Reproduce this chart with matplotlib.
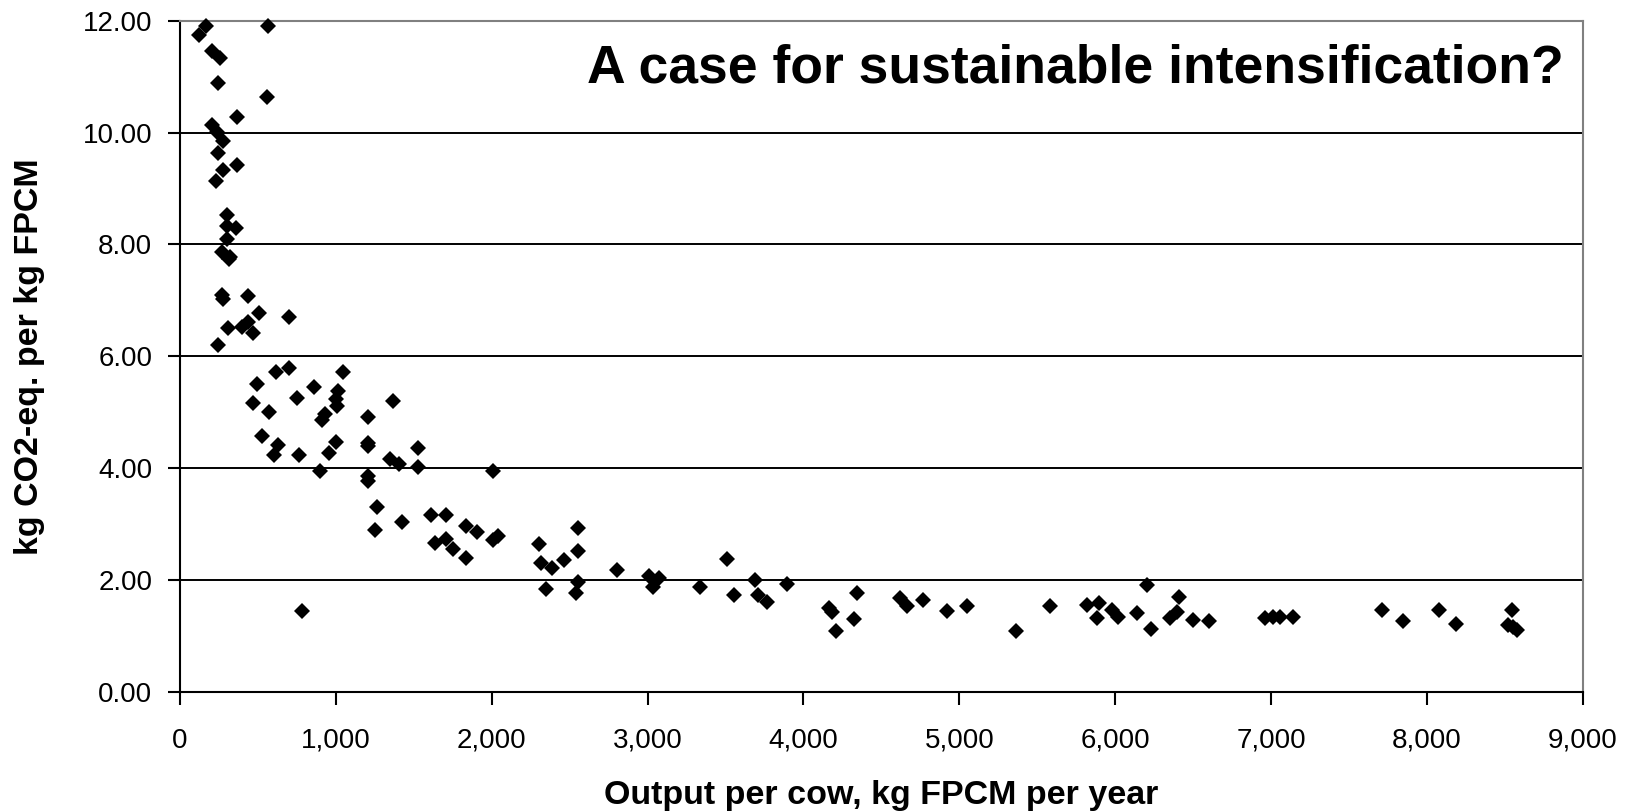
import matplotlib
matplotlib.use("Agg")
import matplotlib.pyplot as plt
from matplotlib.ticker import FuncFormatter

plt.rcParams['font.family'] = ['Liberation Sans', 'DejaVu Sans']

# Output per cow (kg FPCM / year)
output_per_cow = [
    167, 124, 567, 203, 257, 246, 556, 364, 203, 235, 278, 246, 364, 278, 229,
    304, 304, 357, 304, 267, 321, 316, 267, 438, 278, 509, 701, 310, 396, 438,
    466, 246,
    616, 701, 1044, 496, 860, 1016, 749, 999, 1005, 1369, 466, 930, 909, 571,
    1208, 528, 631, 603, 764, 1001, 956, 1208, 1208, 898, 1347, 1407, 1529,
    1529, 1208, 1208, 1266, 1427, 1251, 1609, 1707, 1835, 1636, 1707, 1750,
    1835, 781,
    2006, 1904, 2010, 2042, 2304, 2552, 2552, 2314, 2389, 2464, 2346, 2552,
    2539, 2802, 3011, 3074, 3037, 3337, 3512, 3557, 3689, 3711, 3764, 3893,
    4167, 4181, 4342, 4327, 4209, 4620, 4667, 4770, 4919, 5052, 5364, 5582,
    5818, 5899, 5882, 5978, 6021, 6139, 6207, 6228, 6352, 6395, 6412, 6498,
    6605, 6965, 7010, 7060, 7144,
    7715, 7845, 8080, 8188, 8545, 8523, 8577, 8550,
]

# Emission intensity (kg CO2-eq. per kg FPCM)
emission_intensity = [
    11.90, 11.74, 11.90, 11.45, 11.33, 10.88, 10.64, 10.28, 10.13, 10.01, 9.84,
    9.63, 9.42, 9.33, 9.14, 8.52, 8.32, 8.29, 8.09, 7.87, 7.78, 7.73, 7.09,
    7.08, 7.03, 6.77, 6.70, 6.50, 6.53, 6.62, 6.41, 6.20,
    5.71, 5.78, 5.71, 5.50, 5.45, 5.38, 5.26, 5.23, 5.11, 5.19, 5.16, 4.97,
    4.85, 5.00, 4.92, 4.58, 4.41, 4.23, 4.24, 4.47, 4.27, 4.44, 4.39, 3.95,
    4.16, 4.08, 4.36, 4.02, 3.86, 3.77, 3.31, 3.04, 2.89, 3.16, 3.16, 2.96,
    2.66, 2.73, 2.55, 2.39, 1.45,
    3.95, 2.85, 2.71, 2.78, 2.64, 2.93, 2.52, 2.30, 2.21, 2.36, 1.84, 1.97,
    1.76, 2.18, 2.07, 2.03, 1.87, 1.87, 2.37, 1.73, 1.99, 1.73, 1.61, 1.93,
    1.49, 1.43, 1.76, 1.30, 1.09, 1.67, 1.54, 1.64, 1.45, 1.54, 1.09, 1.54,
    1.55, 1.58, 1.31, 1.46, 1.34, 1.40, 1.91, 1.13, 1.31, 1.43, 1.70, 1.29,
    1.27, 1.31, 1.33, 1.33, 1.34,
    1.46, 1.27, 1.46, 1.21, 1.46, 1.19, 1.10, 1.15,
]

x_ticks = [0, 1000, 2000, 3000, 4000, 5000, 6000, 7000, 8000, 9000]
y_ticks = [0, 2, 4, 6, 8, 10, 12]

title_text = "A case for sustainable intensification?"
x_label = "Output per cow, kg FPCM per year"
y_label = "kg CO2-eq. per kg FPCM"

fig = plt.figure(figsize=(16.36, 8.11), dpi=100)
ax = fig.add_axes([0.110, 0.1471, 0.8574, 0.8274])

for yv in y_ticks[1:-1]:
    ax.axhline(yv, color='black', linewidth=1.4, zorder=1)

ax.plot(output_per_cow, emission_intensity, linestyle='none', marker='D',
        markersize=8.2, color='black', markeredgewidth=0, zorder=3,
        clip_on=False)

ax.set_xlim(0, 9000)
ax.set_ylim(0, 12)
ax.set_xticks(x_ticks)
ax.set_yticks(y_ticks)
ax.xaxis.set_major_formatter(FuncFormatter(lambda v, p: f"{int(v):,}"))
ax.yaxis.set_major_formatter(FuncFormatter(lambda v, p: f"{v:.2f}"))

ax.spines['left'].set_color('black')
ax.spines['bottom'].set_color('black')
ax.spines['left'].set_linewidth(1.5)
ax.spines['bottom'].set_linewidth(1.5)
ax.spines['top'].set_color('#808080')
ax.spines['right'].set_color('#808080')
ax.spines['top'].set_linewidth(1.5)
ax.spines['right'].set_linewidth(1.5)

ax.tick_params(axis='x', direction='out', length=9, width=1.5, pad=17,
               labelsize=20, colors='black')
ax.tick_params(axis='y', direction='out', length=9, width=1.5, pad=11,
               labelsize=20, colors='black')

ax.set_xlabel(x_label, fontsize=24.5, fontweight='bold', labelpad=19)
ax.set_ylabel(y_label, fontsize=24.5, fontweight='bold', labelpad=27)

ax.text(0.9865, 0.928, title_text, transform=ax.transAxes, ha='right',
        va='center', fontsize=38.5, fontweight='bold', color='black', zorder=4)

fig.savefig("out.png", dpi=100, facecolor='white')
